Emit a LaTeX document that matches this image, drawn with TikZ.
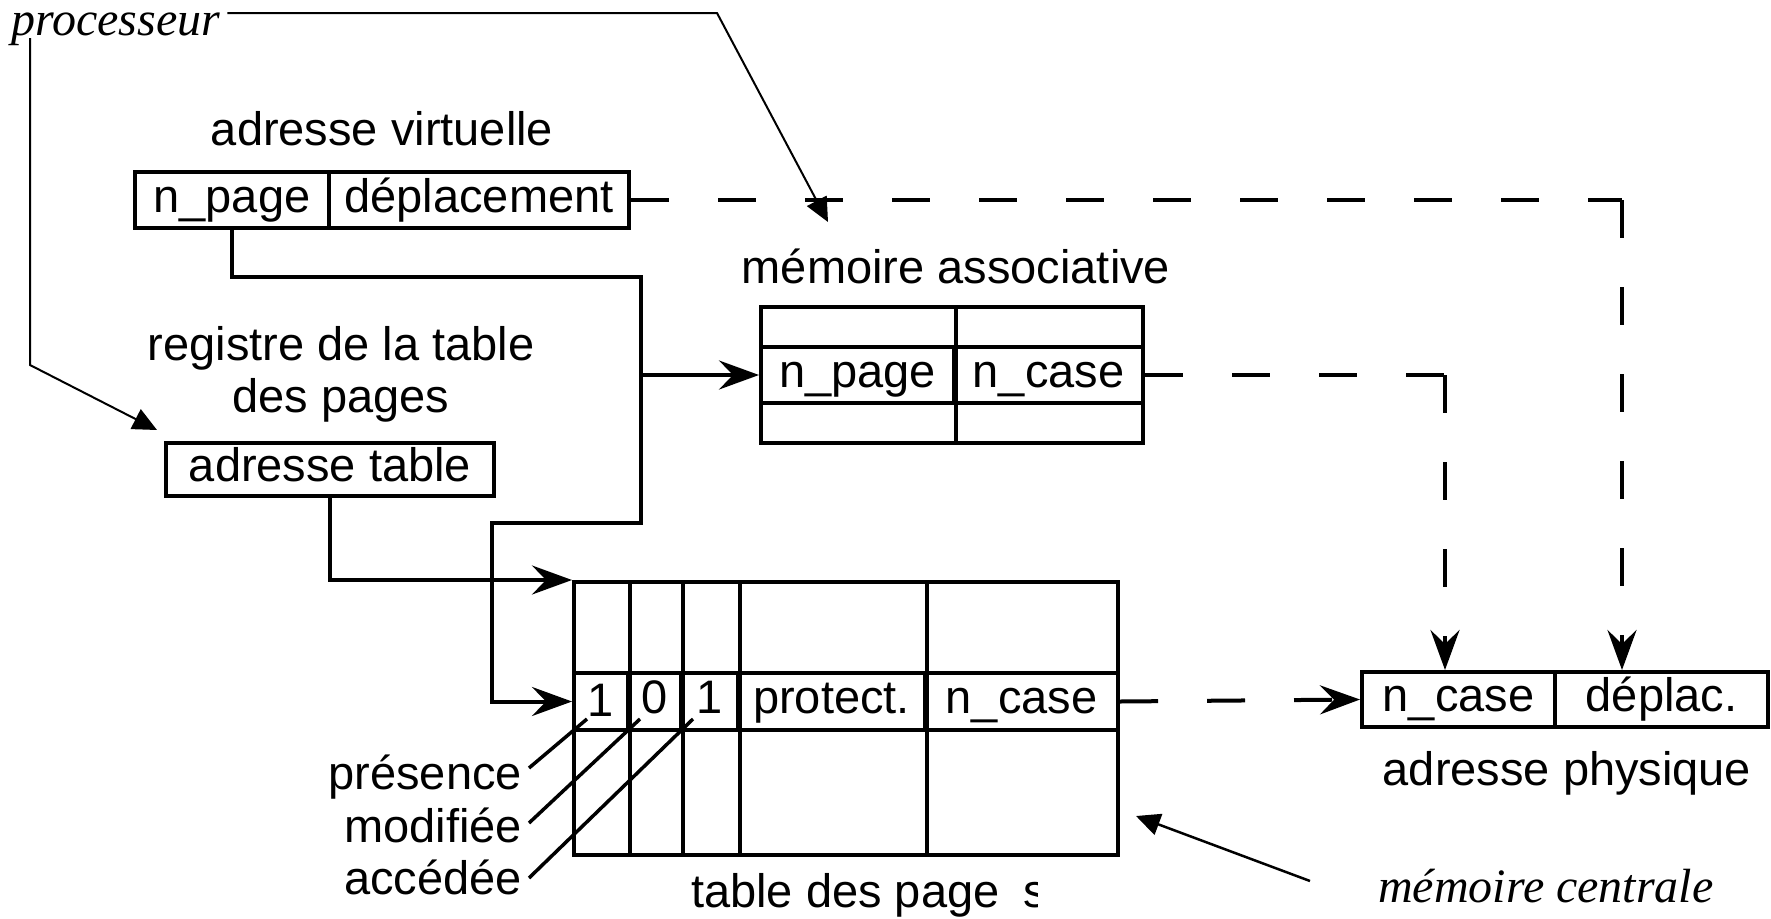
\documentclass[tikz,border=0pt]{standalone}
\usepackage{fontspec}
\setmainfont{Liberation Sans}
\newfontfamily\timesfam{Liberation Serif}
\usetikzlibrary{arrows.meta}
\newcommand\diagfont{\fontsize{47pt}{56pt}\selectfont}
\newcommand\notefont{\timesfam\itshape\fontsize{48pt}{56pt}\selectfont}
\tikzset{
  cell/.style={draw, line width=4pt, inner sep=0pt, text height=34pt, text depth=10pt, font=\diagfont},
  lbl/.style={inner sep=0pt, font=\diagfont},
  note/.style={inner sep=0pt, font=\notefont},
  solidline/.style={line width=4pt},
  dashline/.style={line width=4pt, dash pattern=on 38pt off 49pt},
  thinline/.style={line width=2pt},
  leader/.style={line width=3.5pt},
  bigarrow/.style={-{Stealth[length=40pt,width=29pt,inset=14pt]}},
  smallarrow/.style={-{Triangle[length=24pt,width=22pt]}},
}
\begin{document}
\begin{tikzpicture}[x=1pt,y=-1pt]
\useasboundingbox (0,0) rectangle (1771,918);

% --- labels
\node[note, anchor=base west, text height=24pt] (proc) at (11,35) {processeur};
\node[lbl, anchor=base] (vlab) at (382,145) {adresse virtuelle};
\node[lbl, anchor=base] (reg1) at (341,360) {registre de la table};
\node[lbl, anchor=base] (reg2) at (341,412) {des pages};
\node[lbl, anchor=base] (amlab) at (956,283) {mémoire associative};
\node[lbl, anchor=base] (plab) at (1567,785) {adresse physique};
\node[note, anchor=base west] (mc) at (1378,902) {mémoire centrale};

% --- virtual address
\node[cell, minimum width=194pt, minimum height=56pt] (vp) at (232,200) {n\_page};
\node[cell, minimum width=300pt, minimum height=56pt] (vd) at (479,200) {déplacement};

% --- page table register
\node[cell, minimum width=328pt, minimum height=53pt] (at) at (330,469.5) {adresse table};

% --- associative memory
\node[cell, minimum width=382pt, minimum height=136pt] (am) at (952,375) {};
\node[cell, minimum width=193pt, minimum height=56pt] (ap) at (857.5,375) {n\_page};
\node[cell, minimum width=189pt, minimum height=56pt] (ac) at (1048.5,375) {n\_case};
\draw[solidline] (ap.north east |- am.north) -- (ap.south east |- am.south);

% --- page table
\node[cell, minimum width=544pt, minimum height=273pt] (tab) at (846,718.5) {};
\node[cell, minimum width=54pt, minimum height=57pt] (b1) at (601,701.5) {\raisebox{-3pt}{1}};
\node[cell, minimum width=53pt, minimum height=57pt] (b2) at (654.5,701.5) {0};
\node[cell, minimum width=57pt, minimum height=57pt] (b3) at (709.5,701.5) {1};
\node[cell, minimum width=187pt, minimum height=57pt] (pr) at (831.5,701.5) {protect.};
\node[cell, minimum width=193pt, minimum height=57pt] (nc) at (1021.5,701.5) {n\_case};
\foreach \c in {b1,b2,b3,pr}
  \draw[solidline] (\c.north east |- tab.north) -- (\c.south east |- tab.south);
\begin{scope}
  \clip (600,860) rectangle (1037,918);
  \node[lbl, anchor=base west] (tcap) at (691,907) {table des page\hspace{24pt}s};
\end{scope}

% --- bit labels
\node[lbl, anchor=base east] (pres) at (522,789) {présence};
\node[lbl, anchor=base east] (modi) at (522,842) {modifiée};
\node[lbl, anchor=base east] (acce) at (522,894) {accédée};
\draw[leader] ([xshift=7pt,yshift=21pt]pres.base east) -- ([xshift=15pt,yshift=13pt]b1.south west);
\draw[leader] ([xshift=7pt,yshift=19pt]modi.base east) -- ([xshift=14pt,yshift=13pt]b2.south west);
\draw[leader] ([xshift=7pt,yshift=16pt]acce.base east) -- ([xshift=14pt,yshift=13pt]b3.south west);

% --- physical address
\node[cell, minimum width=193pt, minimum height=55pt] (pn) at (1458.5,699.5) {n\_case};
\node[cell, minimum width=213pt, minimum height=55pt] (pd) at (1661.5,699.5) {déplac.};

% --- processor pointers
\coordinate (pk) at (717,13);
\coordinate (tipA) at (828,222);
\coordinate (pL) at (30,365);
\coordinate (tipB) at (157,430);
\draw[thinline, smallarrow] ([xshift=7pt]proc.east |- pk) -- (pk) -- (tipA);
\draw[thinline, smallarrow] ([yshift=-3pt]proc.base west -| pL) |- (pL) -- (tipB);
\draw[line width=2.5pt, smallarrow] ([xshift=-68pt,yshift=21pt]mc.base west) -- ([xshift=16pt,yshift=41pt]tab.south east);

% --- page number routing
\coordinate (k1) at (641,277);
\coordinate (k2) at (492,523);
\draw[solidline, bigarrow] (vp.south) |- (k1) |- (k2) |- (b1.west);
\draw[solidline, bigarrow] (k1 |- am.west) -- (am.west);
\draw[solidline, bigarrow] (at.south) |- (tab.north west);

% --- dashed data paths
\coordinate (c1) at (1622,0);
\coordinate (c2) at (1445,0);
\draw[dashline] (vd.east) -- (vd.east -| c1);
\draw[dashline, bigarrow] (vd.east -| c1) -- (c1 |- pd.north);
\draw[dashline] (ac.east) -- (ac.east -| c2);
\draw[dashline, bigarrow] (ac.east -| c2) -- (c2 |- pn.north);
\draw[dashline, bigarrow] (nc.east) -- (pn.west);
\end{tikzpicture}
\end{document}
